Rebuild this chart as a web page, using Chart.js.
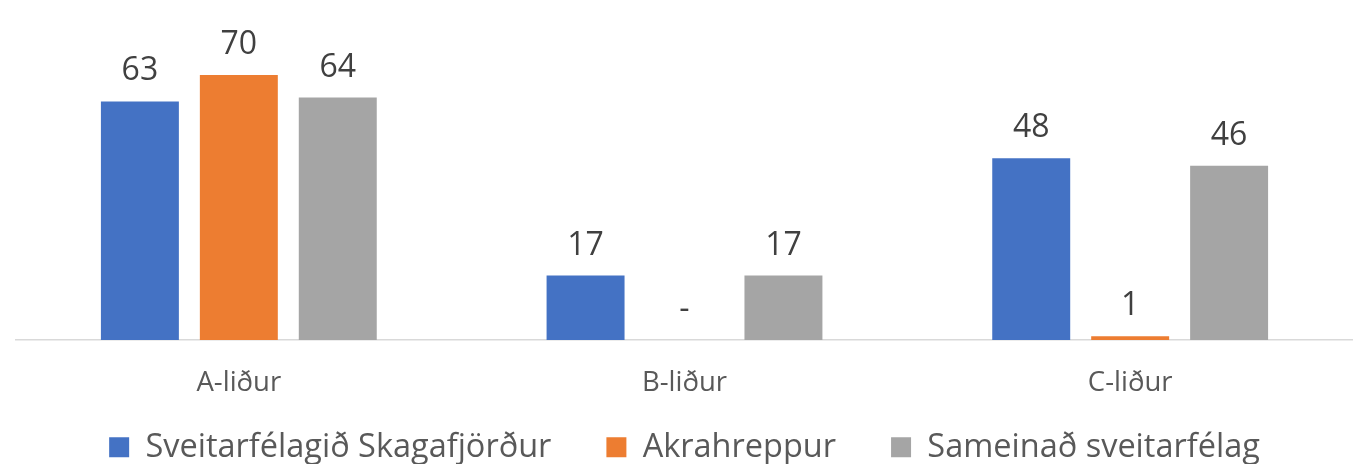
<!DOCTYPE html>
<html>
<head>
<meta charset="utf-8">
<script src="https://cdn.jsdelivr.net/npm/chart.js@4.4.1/dist/chart.umd.min.js"></script>
<style>
  html, body { margin: 0; padding: 0; background: #fff; }
  #wrap { width: 1353px; height: 464px; position: relative; }
</style>
</head>
<body>
<div id="wrap"><canvas id="barChart"></canvas></div>
<script>
  const categories = ['A-liður', 'B-liður', 'C-liður'];
  const seriesNames = ['Sveitarfélagið Skagafjörður', 'Akrahreppur', 'Sameinað sveitarfélag'];
  const skagafjordur = [63, 17, 48];
  const akrahreppur = [70, 0, 1];
  const sameinad = [64, 17, 46];
  const colors = ['#4472C4', '#ED7D31', '#A5A5A5'];

  Chart.defaults.font.family = "'Open Sans', sans-serif";
  Chart.defaults.color = '#595959';

  // value labels above bars, "-" when value is 0
  const valueLabels = {
    id: 'valueLabels',
    afterDatasetsDraw(chart) {
      const ctx = chart.ctx;
      ctx.save();
      ctx.font = "32px 'Open Sans', sans-serif";
      ctx.fillStyle = '#404040';
      ctx.textAlign = 'center';
      ctx.textBaseline = 'alphabetic';
      chart.data.datasets.forEach((ds, i) => {
        chart.getDatasetMeta(i).data.forEach((bar, j) => {
          const v = ds.data[j];
          ctx.fillText(v === 0 ? '-' : String(v), bar.x, bar.y - 21);
        });
      });
      ctx.restore();
    }
  };

  const ctx = document.getElementById('barChart');
  const barChart = new Chart(ctx, {
    type: 'bar',
    data: {
      labels: categories,
      datasets: [
        { label: seriesNames[0], data: skagafjordur, backgroundColor: colors[0] },
        { label: seriesNames[1], data: akrahreppur, backgroundColor: colors[1] },
        { label: seriesNames[2], data: sameinad, backgroundColor: colors[2] }
      ]
    },
    options: {
      responsive: true,
      maintainAspectRatio: false,
      animation: false,
      categoryPercentage: 0.666,
      barPercentage: 0.788,
      layout: { padding: { top: 37, left: 16, right: 0, bottom: 0 } },
      plugins: {
        tooltip: { enabled: false },
        legend: {
          position: 'bottom',
          maxHeight: 88,
          labels: {
            boxWidth: 20,
            boxHeight: 20,
            padding: 55,
            color: '#595959',
            font: { size: 32.5 }
          }
        }
      },
      scales: {
        x: {
          grid: { display: false, drawTicks: false },
          border: { display: true, color: '#d9d9d9', width: 1.5 },
          // mirror keeps the labels from being clipped to the short axis box
          ticks: { color: '#595959', mirror: true, padding: -60, font: { size: 27.5 } },
          afterFit: function(scale) { scale.height = 36; }
        },
        y: {
          display: false,
          min: 0,
          max: 80
        }
      }
    },
    plugins: [valueLabels]
  });
</script>
</body>
</html>
